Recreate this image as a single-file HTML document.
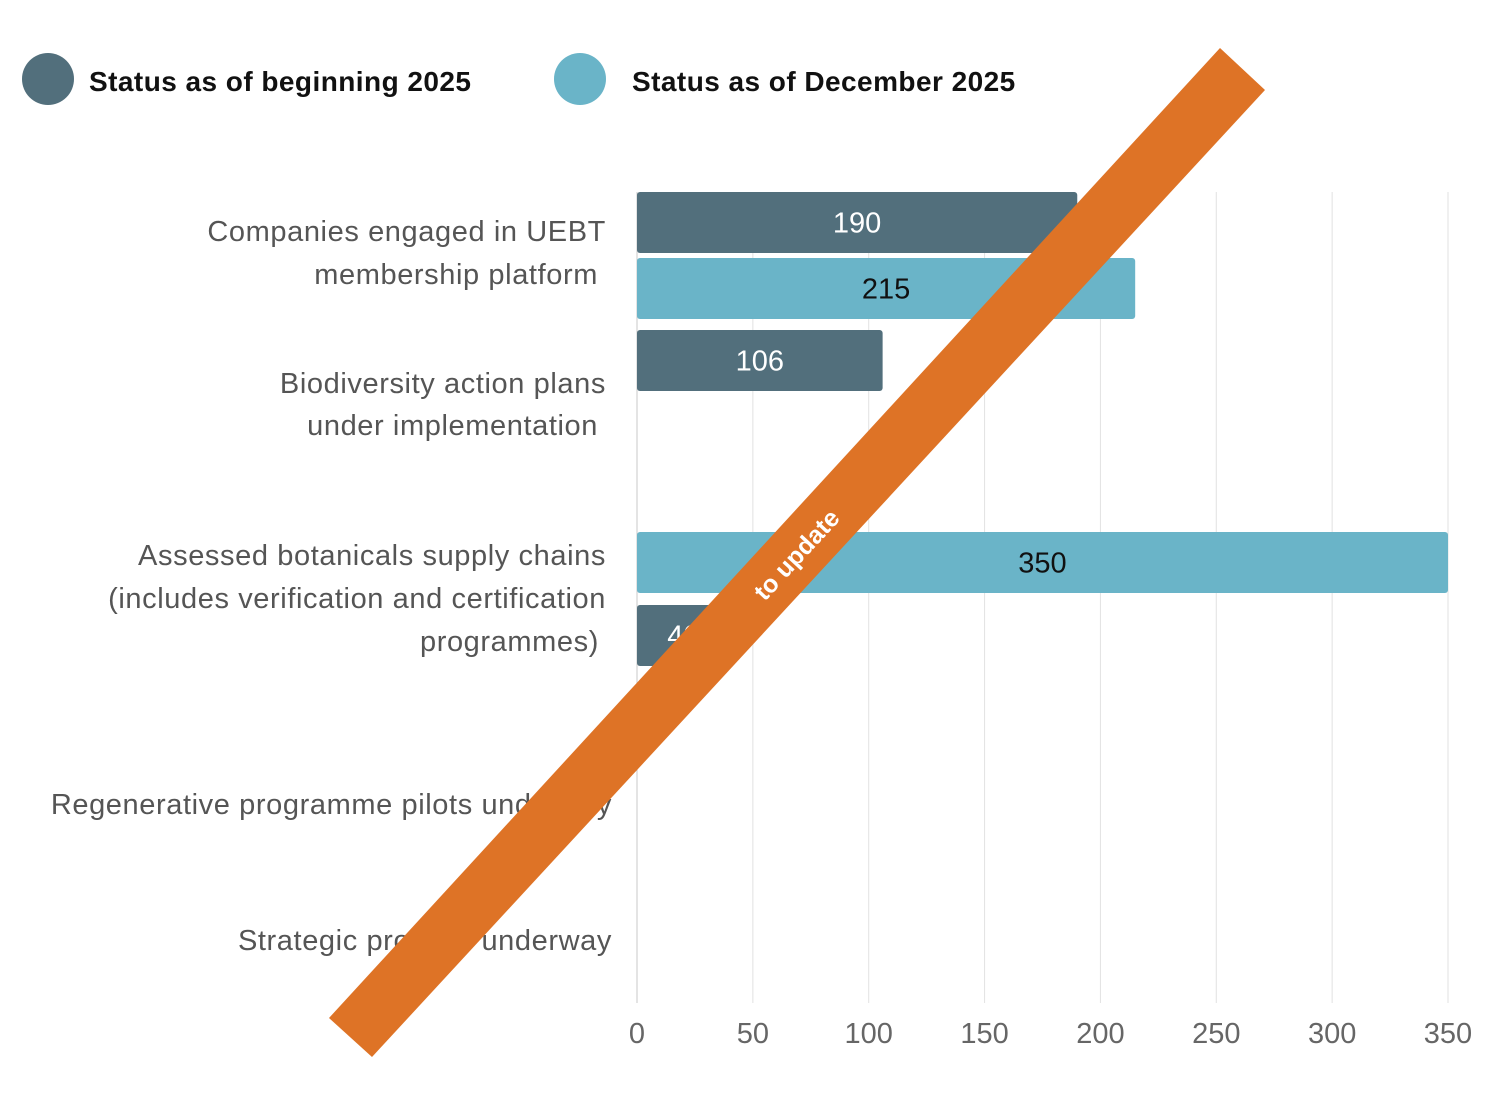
<!DOCTYPE html>
<html><head><meta charset="utf-8"><style>
html,body{margin:0;padding:0;background:#fff}
svg{display:block;font-family:"Liberation Sans",sans-serif}
</style></head><body>
<svg id="chart" width="1508" height="1110" viewBox="0 0 1508 1110" xmlns="http://www.w3.org/2000/svg">
<g>
  <g>
    <ellipse cx="48" cy="79" rx="26" ry="26" fill="#526f7c"/>
    <text x="89" y="91" font-size="28" font-weight="bold" letter-spacing="0.45" fill="#111">Status as of beginning 2025</text>
  </g>
  <g>
    <ellipse cx="580" cy="79" rx="26" ry="26" fill="#6ab4c8"/>
    <text x="632" y="91" font-size="28" font-weight="bold" letter-spacing="0.45" fill="#111">Status as of December 2025</text>
  </g>
</g>
<g id="grid"></g>
<g id="bars"></g>
<g id="xticks"></g>
<g id="ylabels"></g>
<g>
  <polygon points="329,1018 1220,48 1265,90 372,1057" fill="#de7326"/>
  <text x="798" y="556" transform="rotate(-47.3 798 556)" text-anchor="middle" dominant-baseline="middle" font-size="25" font-weight="bold" fill="#fff">to update</text>
</g>
</svg>
<script>
const categories=[["Companies engaged in UEBT","membership platform"],["Biodiversity action plans","under implementation"],["Assessed botanicals supply chains","(includes verification and certification","programmes)"],["Regenerative programme pilots underway"],["Strategic projects underway"]];
const beginningValues=[190,106,40,null,null];
const decemberValues=[215,null,350,null,null];
const ticks=[0,50,100,150,200,250,300,350];
const NS="http://www.w3.org/2000/svg";
const x0=637,x1=1448,maxV=350;
const xs=v=>x0+(x1-x0)*v/maxV;
function mk(tag,attrs,parent){const e=document.createElementNS(NS,tag);for(const k in attrs)e.setAttribute(k,attrs[k]);parent.appendChild(e);return e;}
const grid=document.getElementById('grid'),bars=document.getElementById('bars'),xt=document.getElementById('xticks'),yl=document.getElementById('ylabels');
ticks.forEach(t=>{
  const l=mk('line',{x1:xs(t),x2:xs(t),y1:192,y2:1003,stroke:t===0?'#c8c8c8':'#e2e2e2','stroke-width':1},grid);
  
  
  const tx=mk('text',{x:xs(t),y:1043,'text-anchor':'middle','font-size':29,fill:'#666'},xt);
  tx.textContent=t;
  
  
});
const bandTop=[192,330,532,760,900];
const labelY=[[241,284],[393,435],[565,608,651],[814],[950]];
const labelX=[606,598,606,612,612];
const labelXLine2=[598,598,606,612,612];
const order=[['b','d'],['b','d'],['d','b'],['b','d'],['b','d']];
const barH=61;
const slotStep=[66,66,73,66,66];
categories.forEach((c,i)=>{
  c.forEach((line,j)=>{
    let x=j===0?labelX[i]:labelXLine2[i];
    if(i===1&&j===0)x=606;
    if(i===2&&j===2)x=599;
    const t=mk('text',{x:x,y:labelY[i][j],'text-anchor':'end','font-size':29,'letter-spacing':0.6,fill:'#555'},yl);
    t.textContent=line;
    
    
  });
  order[i].forEach((s,k)=>{
    const v=s==='b'?beginningValues[i]:decemberValues[i];
    if(v==null)return;
    const y=bandTop[i]+k*slotStep[i];
    const r=mk('rect',{x:x0,y:y,width:xs(v)-x0,height:barH,rx:3,fill:s==='b'?'#526f7c':'#6ab4c8'},bars);
    
    
    const t=mk('text',{x:(x0+xs(v))/2,y:y+barH/2+10,'text-anchor':'middle','font-size':29,fill:s==='b'?'#fff':'#111'},bars);
    t.textContent=v;
    
    
  });
});
</script>
</body></html>
